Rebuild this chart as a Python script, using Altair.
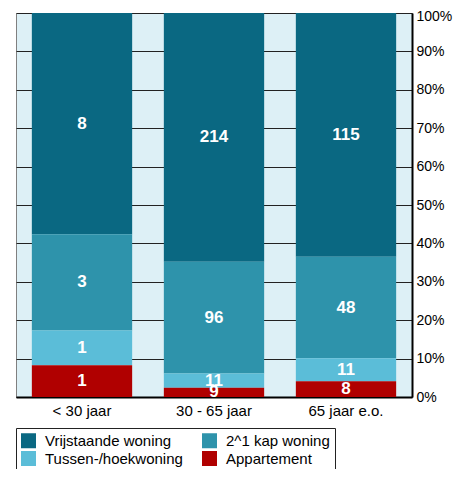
import altair as alt
import pandas as pd

categories = ["< 30 jaar", "30 - 65 jaar", "65 jaar e.o."]
series = ["Vrijstaande woning", "2^1 kap woning", "Tussen-/hoekwoning", "Appartement"]
colors = ["#0a6882", "#2e93ab", "#5bbdd8", "#b00000"]
stack_rank = [3, 2, 1, 0]  # Appartement at the bottom

# share of each bar (%)
vrijstaande = [57.6, 64.8, 63.5]
kap = [25.1, 29.1, 26.4]
tussen = [9.0, 3.7, 6.0]
appartement = [8.3, 2.4, 4.1]

# value labels printed on the segments
lab_vrijstaande = ["8", "214", "115"]
lab_kap = ["3", "96", "48"]
lab_tussen = ["1", "11", "11"]
lab_appartement = ["1", "9", "8"]

y_ticks = [0, 0.1, 0.2, 0.3, 0.4, 0.5, 0.6, 0.7, 0.8, 0.9, 1.0]

shares = [vrijstaande, kap, tussen, appartement]
labels = [lab_vrijstaande, lab_kap, lab_tussen, lab_appartement]

rows = []
for si, s in enumerate(series):
    for ci, c in enumerate(categories):
        rows.append({"cat": c, "series": s, "share": shares[si][ci],
                     "label": labels[si][ci], "rank": stack_rank[si]})
df = pd.DataFrame(rows)

FONT = "Liberation Sans"

base = alt.Chart(df).transform_stack(
    stack="share", groupby=["cat"], sort=[alt.SortField("rank", "ascending")],
    as_=["y0", "y1"], offset="normalize"
).transform_calculate(mid="(datum.y0 + datum.y1) / 2")

x_axis = alt.Axis(labelAngle=0, ticks=False, labelPadding=6,
                  labelFontSize=15, labelColor="black", labelFont=FONT,
                  domainColor="black", domainWidth=2)
x_scale = alt.Scale(paddingInner=0.24, paddingOuter=0.12)

y_axis = alt.Axis(orient="right", format="%", values=y_ticks,
                  ticks=False, labelPadding=4, labelFontSize=14,
                  labelOffset={"condition": {"test": "datum.value == 1", "value": 3}, "value": 0},
                  labelColor="black", labelFont=FONT, labelOverlap=False,
                  domainColor="black", domainWidth=2,
                  grid=True, gridColor="#222222", gridWidth=1)
y_scale = alt.Scale(domain=[0, 1], nice=False)

bars = base.mark_bar().encode(
    x=alt.X("cat:N", sort=categories, title=None, scale=x_scale, axis=x_axis),
    y=alt.Y("y0:Q", scale=y_scale, title=None, axis=y_axis),
    y2="y1:Q",
    color=alt.Color("series:N", scale=alt.Scale(domain=series, range=colors),
                    legend=alt.Legend(title=None, orient="none", legendX=0, legendY=415,
                                      direction="horizontal", columns=2, gridAlign="all",
                                      symbolType="square", symbolSize=225,
                                      symbolStrokeWidth=0, labelFontSize=15,
                                      labelFont=FONT, labelColor="black",
                                      labelOffset=9, rowPadding=2, columnPadding=19,
                                      padding=5, strokeColor="#222222",
                                      fillColor="white")),
)

text = base.mark_text(color="white", fontWeight="bold", fontSize=17, font=FONT,
                      baseline="middle").encode(
    x=alt.X("cat:N", sort=categories, title=None, scale=x_scale, axis=x_axis),
    y=alt.Y("mid:Q", scale=y_scale, title=None, axis=y_axis),
    text="label:N",
)

chart = alt.layer(bars, text).properties(
    width=396, height=384,
    autosize=alt.AutoSizeParams(type="none"),
    padding={"left": 8, "top": 5, "right": 41, "bottom": 72},
).configure_view(fill="#ddf0f6", stroke="#808080", strokeWidth=1)

chart.save("out.html", embed_options={"renderer": "svg", "actions": False})
